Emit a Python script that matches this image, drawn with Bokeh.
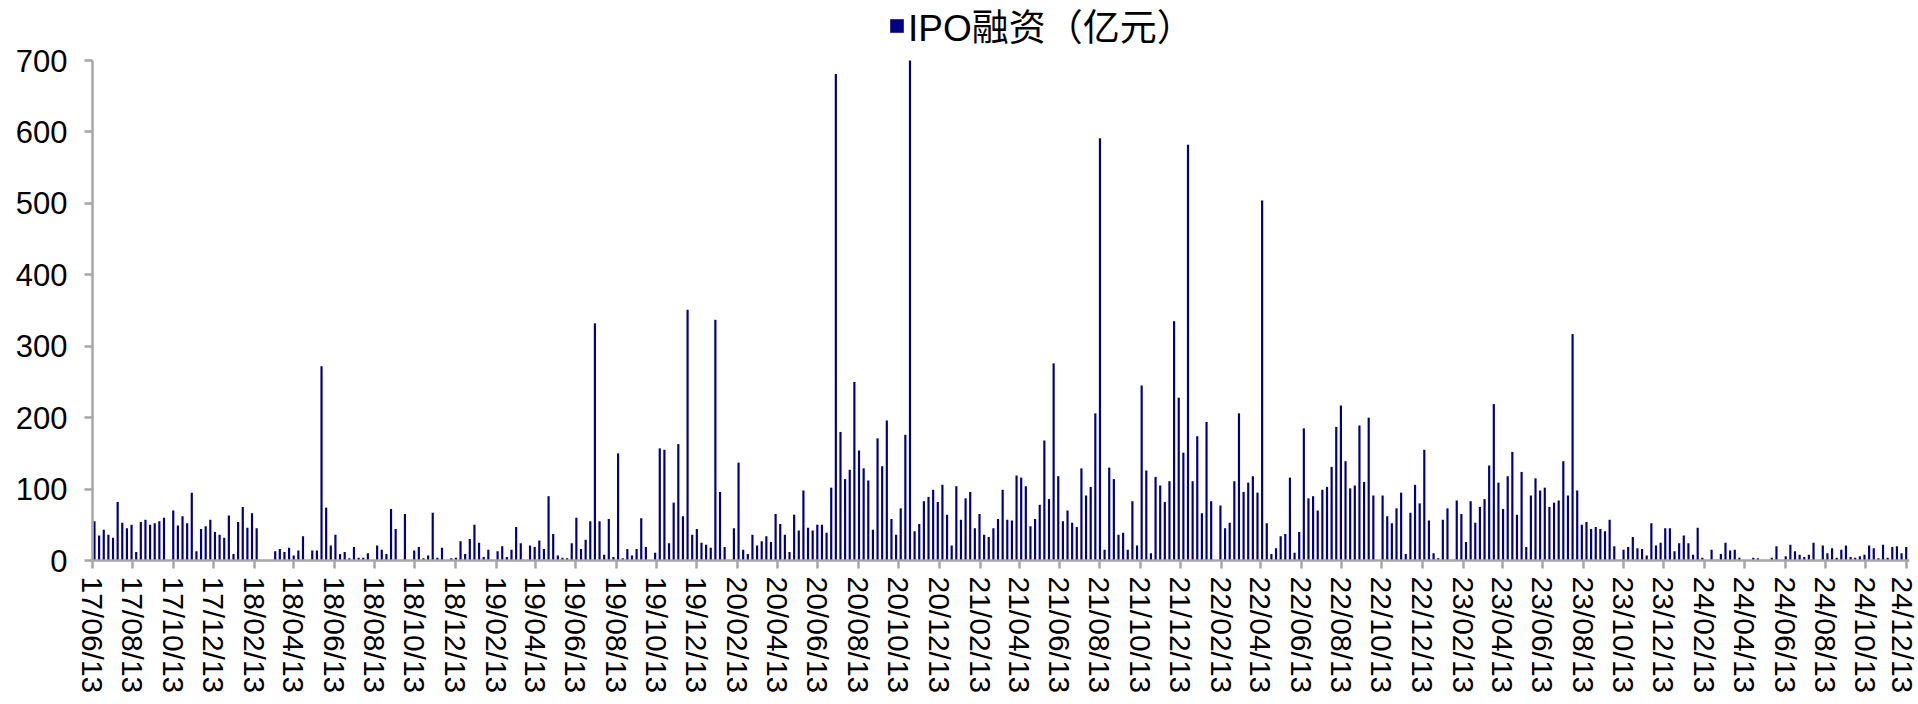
import pandas as pd
from bokeh.plotting import figure
from bokeh.models import Range1d, FixedTicker, Legend, LegendItem, ColumnDataSource
from bokeh.embed import file_html
from bokeh.resources import INLINE

# ---- data (weekly IPO financing, 100 million CNY) ----
first_week = "2017-06-16"
ipo_amount = [
    55, 35, 43, 36, 32, 82, 53, 45, 50, 12, 54, 57, 50, 52, 55, 60, 0, 70, 49, 62, 52, 95, 13, 44, 48, 57, 40, 36, 32, 63, 9, 54, 75, 46, 66, 45,
    0, 0, 0, 13, 16, 12, 18, 7, 14, 34, 0, 14, 14, 272, 74, 21, 36, 9, 12, 3, 19, 4, 4, 10, 0, 21, 15, 9, 72, 44, 0, 65, 0, 14, 19, 3, 7, 67, 4, 18,
    0, 3, 4, 27, 9, 30, 50, 25, 5, 15, 0, 13, 20, 5, 15, 47, 24, 0, 21, 19, 28, 16, 90, 37, 7, 4, 3, 24, 60, 16, 29, 55, 332, 55, 8, 58, 5, 150, 3, 16, 7, 16,
    59, 19, 0, 11, 157, 155, 24, 81, 163, 62, 351, 36, 44, 25, 22, 18, 337, 96, 19, 0, 45, 137, 15, 9, 36, 21, 27, 34, 26, 65, 51, 36, 12, 64, 42, 98, 46, 42, 50, 50, 39,
    102, 681, 180, 114, 127, 250, 154, 129, 112, 43, 171, 132, 196, 58, 36, 73, 176, 700, 41, 51, 83, 89, 99, 82, 106, 64, 21, 104, 57, 87, 96, 45, 65, 36, 33, 45, 58, 99, 57, 56, 119,
    116, 104, 48, 58, 78, 168, 86, 276, 118, 55, 70, 53, 47, 129, 91, 103, 206, 591, 15, 130, 114, 36, 39, 15, 83, 21, 245, 126, 10, 117, 105, 82, 111, 335, 228, 151, 582, 111, 174, 66, 194,
    83, 0, 77, 45, 53, 111, 206, 96, 109, 118, 95, 504, 52, 9, 17, 34, 37, 116, 11, 40, 185, 87, 90, 70, 99, 103, 131, 187, 217, 139, 101, 105, 189, 110, 200, 91, 0, 91, 62, 52, 73,
    95, 9, 67, 106, 80, 155, 56, 10, 3, 57, 73, 0, 84, 65, 26, 83, 53, 75, 86, 133, 219, 109, 72, 118, 152, 64, 124, 19, 91, 115, 98, 102, 75, 81, 84, 139, 91, 317, 98, 50, 54,
    44, 47, 44, 41, 57, 20, 0, 15, 19, 33, 17, 16, 7, 52, 21, 25, 45, 45, 13, 24, 35, 24, 8, 46, 4, 0, 15, 1, 9, 25, 14, 15, 4, 0, 0, 4, 3, 0, 0, 4, 20,
    0, 6, 22, 13, 8, 5, 8, 25, 0, 21, 10, 17, 4, 15, 21, 5, 4, 6, 8, 21, 17, 3, 22, 4, 19, 20, 10, 19,
]
series_name = "IPO融资（亿元）"
y_ticks = [0, 100, 200, 300, 400, 500, 600, 700]
tick_dates = pd.date_range("2017-06-01", "2024-12-01", freq="2MS") + pd.Timedelta(days=12)
tick_labels = [d.strftime("%y/%m/%d") for d in tick_dates]

weeks = pd.date_range(first_week, periods=len(ipo_amount), freq="7D")
src = ColumnDataSource(dict(x=weeks, top=ipo_amount))

DAY = 86400000
x0 = pd.Timestamp("2017-06-13")
x1 = pd.Timestamp("2024-12-18")

# frame reaches the top edge so that the legend can sit inside it, above the 700 tick
TOP_PAD = 60
PLOT_H = 500
y_max = 700 * (PLOT_H + TOP_PAD) / PLOT_H

p = figure(width=1918, height=704, x_axis_type="datetime",
           x_range=Range1d(x0, x1), y_range=Range1d(0, y_max),
           output_backend="svg", toolbar_location=None,
           min_border_left=92, min_border_right=9, min_border_top=0, min_border_bottom=144)
p.outline_line_color = None
p.xgrid.visible = False
p.ygrid.visible = False
p.background_fill_color = "white"
p.border_fill_color = "white"

r = p.vbar(x="x", top="top", bottom=0, width=3.3 * DAY, source=src,
           fill_color="#000080", line_color=None)

axis_gray = "#A6A6A6"
font = "Liberation Sans"
for ax in (p.xaxis[0], p.yaxis[0]):
    ax.axis_line_color = axis_gray
    ax.axis_line_width = 2.5
    ax.major_tick_line_color = axis_gray
    ax.major_tick_line_width = 2.5
    ax.major_tick_in = 0
    ax.major_tick_out = 8
    ax.minor_tick_line_color = None
    ax.major_label_text_font = font
    ax.major_label_text_color = "black"

tick_ms = [int(d.value // 10**6) for d in tick_dates]
p.xaxis[0].ticker = FixedTicker(ticks=tick_ms)
p.xaxis[0].major_label_overrides = {t: lab for t, lab in zip(tick_ms, tick_labels)}
p.xaxis[0].major_label_orientation = "vertical"
p.xaxis[0].major_label_standoff = 8
p.xaxis[0].major_label_text_font_size = "30px"

p.yaxis[0].ticker = FixedTicker(ticks=y_ticks)
p.yaxis[0].bounds = (0, 700)
p.yaxis[0].major_label_standoff = 17
p.yaxis[0].major_label_text_font_size = "31px"

legend = Legend(items=[LegendItem(label=series_name, renderers=[r])],
                location=(796, 508), orientation="horizontal",
                padding=0, margin=0, border_line_color=None, background_fill_alpha=0,
                glyph_width=17, glyph_height=17, label_standoff=3,
                label_text_font="Liberation Sans, Noto Sans CJK SC", label_text_font_size="37px",
                label_text_color="black")
p.add_layout(legend, "center")

open("out.html", "w").write(file_html(p, INLINE))
